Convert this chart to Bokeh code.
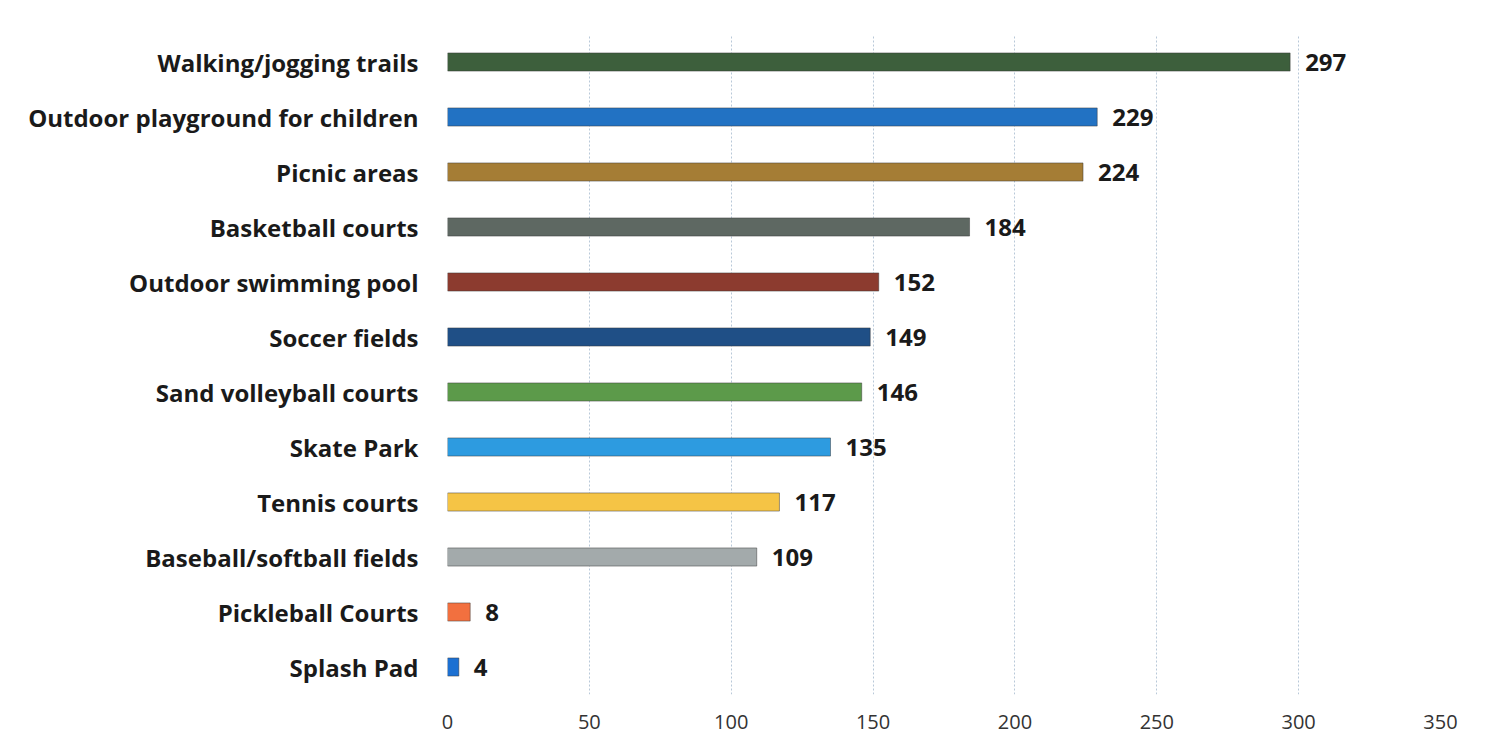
from bokeh.plotting import figure
from bokeh.models import ColumnDataSource, LabelSet, FixedTicker, Range1d
from bokeh.core.properties import value
from bokeh.embed import file_html
from bokeh.resources import INLINE

categories = ["Walking/jogging trails", "Outdoor playground for children", "Picnic areas",
              "Basketball courts", "Outdoor swimming pool", "Soccer fields",
              "Sand volleyball courts", "Skate Park", "Tennis courts",
              "Baseball/softball fields", "Pickleball Courts", "Splash Pad"]
values = [297, 229, 224, 184, 152, 149, 146, 135, 117, 109, 8, 4]
colors = ["#3d5f3c", "#2272c3", "#a57d35", "#5e6862", "#8c3b2f", "#1f4f86",
          "#5c9a4a", "#2d9be0", "#f5c445", "#a3aaab", "#f2703f", "#1c70d2"]
x_ticks = [0, 50, 100, 150, 200, 250, 300, 350]

src = ColumnDataSource(dict(cat=categories, val=values, col=colors,
                            lab=[str(v) for v in values]))

p = figure(y_range=list(reversed(categories)), x_range=Range1d(0, 350),
           width=1477, height=736, output_backend="svg", toolbar_location=None,
           min_border_left=447, min_border_right=37, min_border_top=34, min_border_bottom=42)

p.hbar(y="cat", right="val", height=0.33, left=0, color="col", line_color="#333333",
       line_width=0.8, line_alpha=0.6, source=src)

labels = LabelSet(x="val", y="cat", text="lab", source=src, x_offset=15, y_offset=0,
                  text_baseline="middle", text_font=value("Open Sans"), text_font_style="bold",
                  text_font_size="24px", text_color="#1a1a1a")
p.add_layout(labels)

p.xaxis.ticker = FixedTicker(ticks=x_ticks)
p.xaxis.axis_line_color = None
p.xaxis.major_tick_line_color = None
p.xaxis.minor_tick_line_color = None
p.xaxis.major_label_standoff = 14
p.xaxis.major_label_text_font = "Open Sans"
p.xaxis.major_label_text_font_size = "20px"
p.xaxis.major_label_text_color = "#333333"

p.yaxis.axis_line_color = None
p.yaxis.major_tick_line_color = None
p.yaxis.minor_tick_line_color = None
p.yaxis.major_label_standoff = 23
p.yaxis.major_label_text_font = "Open Sans"
p.yaxis.major_label_text_font_style = "bold"
p.yaxis.major_label_text_font_size = "24px"
p.yaxis.major_label_text_color = "#1a1a1a"

p.xgrid.grid_line_color = "#b8c8d8"
p.xgrid.grid_line_dash = "2 2"
p.xgrid.grid_line_width = 1
p.ygrid.grid_line_color = None
p.outline_line_color = None
p.y_range.range_padding = 0

open("out.html", "w").write(file_html(p, INLINE))
